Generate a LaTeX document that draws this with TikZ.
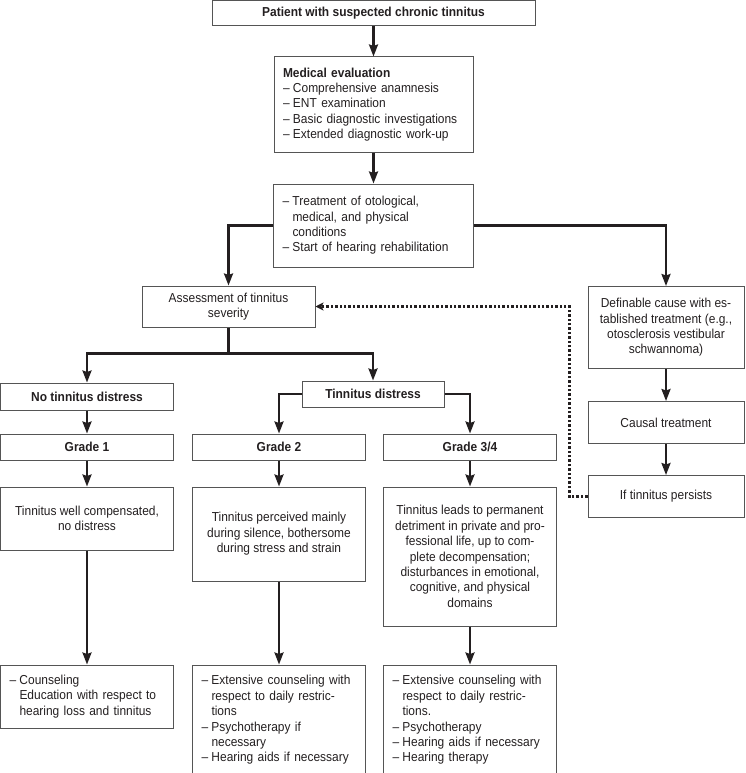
\documentclass[tikz,border=0pt]{standalone}
\usepackage{fontspec}
\setmainfont{Liberation Sans}[FakeStretch=0.92]
\usepackage{xcolor}
\usetikzlibrary{arrows.meta,positioning}
\definecolor{FlowInk}{HTML}{231F20}
\definecolor{FlowFrame}{HTML}{555555}
\newcommand{\dashitem}{\makebox[10pt][l]{–}}
\newcommand{\dashgap}{\hspace*{10pt}}

\begin{document}
\begin{tikzpicture}[
  box/.style={draw=FlowFrame,line width=1pt,text=FlowInk,inner xsep=9pt,inner ysep=3pt,align=center,font=\fontsize{13}{15.4}\selectfont},
  head/.style={box,font=\fontsize{13}{15.4}\selectfont\bfseries},
  list/.style={box,align=left},
  arrow/.style={-{Stealth[length=12pt,width=9pt,inset=1.5pt]},line width=2.2pt,draw=FlowInk},
  dotarrow/.style={-{Stealth[length=8pt,width=8pt,inset=2pt]},line width=2.4pt,draw=FlowInk,dash pattern=on 2.4pt off 2pt}
]
  \useasboundingbox (0,0) rectangle (745pt,-773pt);

  \node[head,minimum width=323pt,minimum height=25pt] (patient) at (373.5pt,-13.5pt) {Patient with suspected chronic tinnitus};
  \node[list,text width=181pt,minimum height=95pt,below=30pt of patient] (medeval) {\textbf{Medical evaluation}\\\dashitem Comprehensive anamnesis\\\dashitem ENT examination\\\dashitem Basic diagnostic investigations\\\dashitem Extended diagnostic work-up};
  \node[list,text width=182pt,minimum height=83pt,below=31pt of medeval] (treat) {\dashitem Treatment of otological,\\\dashgap medical, and physical\\\dashgap conditions\\\dashitem Start of hearing rehabilitation};

  \node[box,minimum width=173pt,minimum height=41pt] (assess) at (228.5pt,-306.5pt) {Assessment of tinnitus\\severity};
  \node[box,minimum width=156pt,minimum height=82pt,anchor=north] (cause) at (666pt,-286pt) {Definable cause with es-\\tablished treatment (e.g.,\\otosclerosis vestibular\\schwannoma)};
  \node[box,minimum width=156pt,minimum height=42pt,below=32pt of cause] (causal) {Causal treatment};
  \node[box,minimum width=156pt,minimum height=42pt,below=31pt of causal] (persist) {If tinnitus persists};

  \node[head,minimum width=173pt,minimum height=27pt] (nodist) at (87pt,-396.5pt) {No tinnitus distress};
  \node[head,minimum width=142pt,minimum height=26pt] (dist) at (373pt,-394pt) {Tinnitus distress};

  \node[head,minimum width=173pt,minimum height=26pt,below=23pt of nodist] (grade1) {Grade 1};
  \node[head,minimum width=173pt,minimum height=26pt,right=18pt of grade1] (grade2) {Grade 2};
  \node[head,minimum width=173pt,minimum height=26pt,right=17pt of grade2] (grade34) {Grade 3/4};

  \node[box,minimum width=173pt,minimum height=63pt,below=26pt of grade1] (desc1) {Tinnitus well compensated,\\no distress};
  \node[box,minimum width=173pt,minimum height=94pt,below=26pt of grade2] (desc2) {Tinnitus perceived mainly\\during silence, bothersome\\during stress and strain};
  \node[box,minimum width=173pt,minimum height=139pt,below=26pt of grade34] (desc34) {Tinnitus leads to permanent\\detriment in private and pro-\\fessional life, up to com-\\plete decompensation;\\disturbances in emotional,\\cognitive, and physical\\domains};

  \node[list,text width=155pt,minimum height=63pt,below=114pt of desc1] (ther1) {\dashitem Counseling\\\dashgap Education with respect to\\\dashgap hearing loss and tinnitus};
  \node[list,text width=155pt,minimum height=110pt,below=83pt of desc2] (ther2) {\dashitem Extensive counseling with\\\dashgap respect to daily restric-\\\dashgap tions\\\dashitem Psychotherapy if\\\dashgap necessary\\\dashitem Hearing aids if necessary};
  \node[list,text width=155pt,minimum height=110pt,below=38pt of desc34] (ther34) {\dashitem Extensive counseling with\\\dashgap respect to daily restric-\\\dashgap tions.\\\dashitem Psychotherapy\\\dashitem Hearing aids if necessary\\\dashitem Hearing therapy};

  \coordinate[below=26pt of assess.south] (split);
  \coordinate[left=18pt of persist.west] (back);

  \draw[arrow] (patient) -- (medeval);
  \draw[arrow] (medeval) -- (treat);
  \draw[arrow] (treat.west) -| (assess.north);
  \draw[arrow] (treat.east) -| (cause.north);
  \draw[arrow] (assess.south) -- (split) -| (nodist.north);
  \draw[arrow] (split) -| (dist.north);
  \draw[arrow] (dist.west) -| (grade2.north);
  \draw[arrow] (dist.east) -| (grade34.north);
  \draw[arrow] (nodist) -- (grade1);
  \draw[arrow] (grade1) -- (desc1);
  \draw[arrow] (grade2) -- (desc2);
  \draw[arrow] (grade34) -- (desc34);
  \draw[arrow] (desc1) -- (ther1);
  \draw[arrow] (desc2) -- (ther2);
  \draw[arrow] (desc34) -- (ther34);
  \draw[arrow] (cause) -- (causal);
  \draw[arrow] (causal) -- (persist);
  \draw[dotarrow] (persist.west) -- (back) |- (assess.east);
\end{tikzpicture}
\end{document}
